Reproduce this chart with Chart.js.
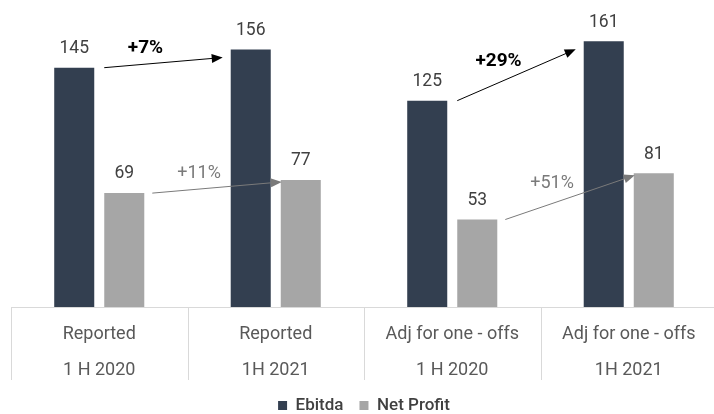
<!DOCTYPE html>
<html>
<head>
<meta charset="utf-8">
<script src="https://cdn.jsdelivr.net/npm/chart.js@4.4.1/dist/chart.umd.min.js"></script>
<style>
  html, body { margin: 0; padding: 0; background: #fff; overflow: hidden; }
  #wrap { width: 720px; height: 424px; }
</style>
</head>
<body>
<div id="wrap"><canvas id="myChart"></canvas></div>
<script>
const categories = [
  ['Reported', '1 H 2020'],
  ['Reported', '1H 2021'],
  ['Adj for one - offs', '1 H 2020'],
  ['Adj for one - offs', '1H 2021']
];
const ebitda = [145, 156, 125, 161];
const netProfit = [69, 77, 53, 81];

// period-on-period growth, arrow goes from the first index to the second
const growthPairs = [[0, 1], [2, 3]];
const ebitdaGrowth = ['+7%', '+29%'];
const netProfitGrowth = ['+11%', '+51%'];

const EBITDA_COLOR = '#333f50';
const PROFIT_COLOR = '#a6a6a6';

Chart.defaults.font.family = 'Roboto';

// numbers above each bar
const valueLabels = {
  id: 'valueLabels',
  afterDatasetsDraw( chart ) {
    const ctx = chart.ctx;
    ctx.save();
    ctx.font = '17.5px Roboto';
    ctx.fillStyle = '#404040';
    ctx.textAlign = 'center';
    ctx.textBaseline = 'middle';
    chart.data.datasets.forEach( ( ds, i ) => {
      chart.getDatasetMeta( i ).data.forEach( ( bar, j ) => {
        ctx.fillText( ds.data[ j ], bar.x, bar.y - 19 );
      } );
    } );
    ctx.restore();
  }
};

function drawArrow( ctx, x1, y1, x2, y2, color ) {
  const a = Math.atan2( y2 - y1, x2 - x1 );
  const c = Math.cos( a ), s = Math.sin( a );
  ctx.strokeStyle = color;
  ctx.fillStyle = color;
  ctx.lineWidth = 1;
  ctx.beginPath();
  ctx.moveTo( x1, y1 );
  ctx.lineTo( x2 - 9 * c, y2 - 9 * s );
  ctx.stroke();
  ctx.beginPath();
  ctx.moveTo( x2, y2 );
  ctx.lineTo( x2 - 11 * c + 4.5 * s, y2 - 11 * s - 4.5 * c );
  ctx.lineTo( x2 - 11 * c - 4.5 * s, y2 - 11 * s + 4.5 * c );
  ctx.closePath();
  ctx.fill();
}

function drawGrowth( ctx, text, x1, y1, x2, y2, font, color ) {
  drawArrow( ctx, x1, y1, x2, y2, color );
  ctx.font = font;
  ctx.fillStyle = color;
  ctx.textAlign = 'center';
  ctx.textBaseline = 'middle';
  ctx.fillText( text, ( x1 + x2 ) / 2 - 18, ( y1 + y2 ) / 2 - 14 );
}

const growthArrows = {
  id: 'growthArrows',
  afterDatasetsDraw( chart ) {
    const ctx = chart.ctx;
    const eb = chart.getDatasetMeta( 0 ).data;
    const np = chart.getDatasetMeta( 1 ).data;
    ctx.save();
    growthPairs.forEach( ( [ a, b ], k ) => {
      drawGrowth( ctx, ebitdaGrowth[ k ],
        eb[ a ].x + eb[ a ].width / 2 + 10, eb[ a ].y,
        eb[ b ].x - eb[ b ].width / 2 - 8, eb[ b ].y + 8,
        'bold 19px Roboto', '#000000' );
      drawGrowth( ctx, netProfitGrowth[ k ],
        np[ a ].x + np[ a ].width / 2 + 8, np[ a ].y,
        np[ b ].x - np[ b ].width / 2 + 1, np[ b ].y + 2,
        '18px Roboto', '#7a7a7a' );
    } );
    ctx.restore();
  }
};

// table-like separators under the axis line
const categoryDividers = {
  id: 'categoryDividers',
  afterDraw( chart ) {
    const x = chart.scales.x;
    const ctx = chart.ctx;
    const half = ( x.getPixelForValue( 1 ) - x.getPixelForValue( 0 ) ) / 2;
    const top = chart.chartArea.bottom;
    ctx.save();
    ctx.strokeStyle = '#d9d9d9';
    ctx.lineWidth = 1;
    for ( let i = 0; i <= categories.length; i++ ) {
      const px = Math.round( x.getPixelForValue( i ) - half ) + 0.5;
      ctx.beginPath();
      ctx.moveTo( px, top );
      ctx.lineTo( px, top + 73 );
      ctx.stroke();
    }
    ctx.restore();
  }
};

const ctx = document.getElementById( 'myChart' ).getContext( '2d' );
const myChart = new Chart( ctx, {
  type: 'bar',
  data: {
    labels: categories,
    datasets: [ {
      label: 'Ebitda',
      data: ebitda,
      backgroundColor: EBITDA_COLOR,
      categoryPercentage: 0.567,
      barPercentage: 0.8
    }, {
      label: 'Net Profit',
      data: netProfit,
      backgroundColor: PROFIT_COLOR,
      categoryPercentage: 0.567,
      barPercentage: 0.8
    } ]
  },
  options: {
    responsive: true,
    maintainAspectRatio: false,
    animation: false,
    layout: {
      padding: { left: 11, right: 3, top: 0, bottom: 0 }
    },
    plugins: {
      legend: {
        position: 'bottom',
        labels: {
          boxWidth: 9,
          boxHeight: 9,
          padding: 16,
          color: '#404040',
          font: { size: 17, weight: '500' }
        }
      },
      tooltip: { enabled: false }
    },
    scales: {
      x: {
        grid: { display: false },
        border: { display: true, color: '#d9d9d9' },
        ticks: {
          color: '#595959',
          font: { size: 18, lineHeight: '36px' },
          padding: 1,
          maxRotation: 0,
          autoSkip: false
        },
        afterFit( scale ) {
          scale.height -= 8;
        }
      },
      y: {
        display: false,
        min: 0,
        max: 186
      }
    }
  },
  plugins: [ valueLabels, growthArrows, categoryDividers ]
} );
</script>
</body>
</html>
